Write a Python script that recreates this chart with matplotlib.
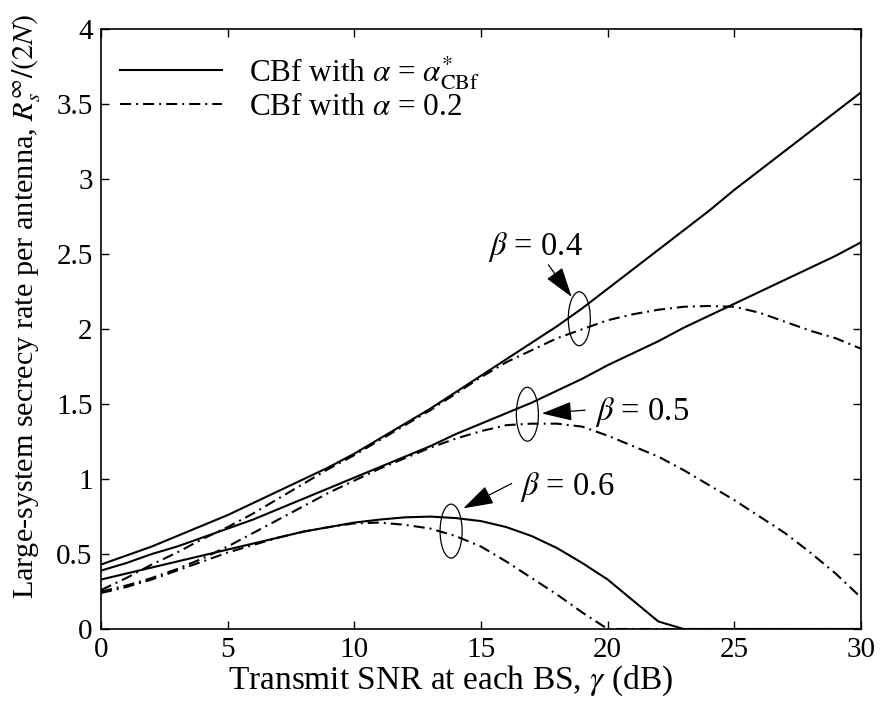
import matplotlib
matplotlib.use('Agg')
import matplotlib.pyplot as plt
from matplotlib.patches import Ellipse, FancyArrowPatch

plt.rcParams['font.family'] = ['Liberation Serif', 'DejaVu Serif']
plt.rcParams['mathtext.fontset'] = 'stix'
plt.rcParams['lines.scale_dashes'] = False

# transmit SNR (dB)
snr = list(range(0, 31))

# CBf with optimal alpha
rate_opt_b04 = [0.43, 0.49, 0.55, 0.62, 0.69, 0.76, 0.84, 0.92, 1.00, 1.08,
                1.17, 1.27, 1.37, 1.47, 1.58, 1.69, 1.80, 1.91, 2.02, 2.14,
                2.27, 2.40, 2.53, 2.66, 2.79, 2.93, 3.06, 3.19, 3.32, 3.45, 3.58]
rate_opt_b05 = [0.39, 0.44, 0.50, 0.55, 0.61, 0.67, 0.73, 0.80, 0.87, 0.94,
                1.01, 1.08, 1.15, 1.22, 1.30, 1.37, 1.44, 1.51, 1.59, 1.67,
                1.76, 1.84, 1.92, 2.01, 2.09, 2.17, 2.25, 2.33, 2.41, 2.49, 2.58]
rate_opt_b06 = [0.33, 0.37, 0.41, 0.45, 0.49, 0.53, 0.57, 0.61, 0.65, 0.68,
                0.71, 0.73, 0.745, 0.75, 0.74, 0.72, 0.68, 0.62, 0.54, 0.44,
                0.33, 0.19, 0.05, 0.0, 0.0, 0.0, 0.0, 0.0, 0.0, 0.0, 0.0]

# CBf with alpha = 0.2
rate_fix_b04 = [0.26, 0.34, 0.43, 0.51, 0.60, 0.68, 0.77, 0.87, 0.97, 1.07,
                1.16, 1.26, 1.36, 1.46, 1.57, 1.68, 1.78, 1.86, 1.94, 2.00,
                2.06, 2.10, 2.13, 2.15, 2.155, 2.15, 2.11, 2.05, 1.99, 1.94, 1.87]
rate_fix_b05 = [0.25, 0.29, 0.34, 0.40, 0.47, 0.55, 0.64, 0.73, 0.82, 0.91,
                0.99, 1.07, 1.14, 1.21, 1.27, 1.32, 1.36, 1.37, 1.37, 1.35,
                1.29, 1.22, 1.15, 1.06, 0.96, 0.86, 0.75, 0.64, 0.51, 0.37, 0.21]
rate_fix_b06 = [0.24, 0.28, 0.33, 0.39, 0.45, 0.51, 0.56, 0.61, 0.65, 0.68,
                0.705, 0.71, 0.695, 0.67, 0.62, 0.55, 0.45, 0.34, 0.23, 0.11,
                0.0, 0.0, 0.0, 0.0, 0.0, 0.0, 0.0, 0.0, 0.0, 0.0, 0.0]

DASHDOT = (0, (8, 3.6, 1.4, 3.6))
LW = 1.5

fig = plt.figure(figsize=(8.8, 7.02), dpi=100)
ax = fig.add_axes([0.1148, 0.104, 0.8636, 0.854])

ax.plot(snr, rate_opt_b04, '-', color='k', lw=LW, label=r'CBf with $\alpha$ = $\alpha^{*}_{\mathrm{CBf}}$')
ax.plot(snr, rate_opt_b05, '-', color='k', lw=LW)
ax.plot(snr, rate_opt_b06, '-', color='k', lw=LW)
ax.plot(snr, rate_fix_b04, linestyle=DASHDOT, color='k', lw=LW, label=r'CBf with $\alpha$ = 0.2')
ax.plot(snr, rate_fix_b05, linestyle=DASHDOT, color='k', lw=LW)
ax.plot(snr, rate_fix_b06, linestyle=DASHDOT, color='k', lw=LW)

# ellipses grouping each beta pair, with arrows from the labels
groups = [
    # (ellipse centre, label pos, arrow tail, arrow tip, text)
    ((18.88, 2.07), (15.28, 2.55), (17.66, 2.43), (18.58, 2.215), r'$\beta$ = 0.4'),
    ((16.83, 1.433), (19.5, 1.447), (19.11, 1.46), (17.40, 1.438), r'$\beta$ = 0.5'),
    ((13.82, 0.653), (16.54, 0.947), (16.21, 0.971), (14.30, 0.805), r'$\beta$ = 0.6'),
]
for centre, tpos, tail, tip, txt in groups:
    ax.add_patch(Ellipse(centre, 0.87, 0.36, fill=False, ec='k', lw=0.9))
    ax.text(tpos[0], tpos[1], txt, fontsize=23.5, ha='left', va='center')
    ax.add_patch(FancyArrowPatch(tail, tip, arrowstyle='-|>,head_length=0.95,head_width=0.3',
                                 mutation_scale=20, color='k', lw=0.9,
                                 shrinkA=0, shrinkB=0))

ax.set_xlim(0, 30)
ax.set_ylim(0, 4)
ax.set_xticks([0, 5, 10, 15, 20, 25, 30])
ax.set_yticks([0, 0.5, 1, 1.5, 2, 2.5, 3, 3.5, 4])
ax.set_yticklabels(['0', '0.5', '1', '1.5', '2', '2.5', '3', '3.5', '4'])
ax.tick_params(direction='in', length=6, width=1, top=True, right=True,
               labelsize=21, pad=6)
for sp in ax.spines.values():
    sp.set_linewidth(1.2)

ax.set_xlabel(r'Transmit SNR at each BS, $\gamma$ (dB)', fontsize=24)
ax.xaxis.set_label_coords(0.4605, -0.058)
ax.set_ylabel(r'Large-system secrecy rate per antenna, $R_s^{\infty}/(2N)$', fontsize=21.8)
ax.yaxis.set_label_coords(-0.077, 0.538)

ax.legend(loc='upper left', frameon=False, fontsize=22.5, handlelength=3.26,
          handletextpad=0.86, borderaxespad=0.0, borderpad=0.5, labelspacing=0.05,
          bbox_to_anchor=(0.005, 0.985))

fig.savefig('out.png', dpi=100)
